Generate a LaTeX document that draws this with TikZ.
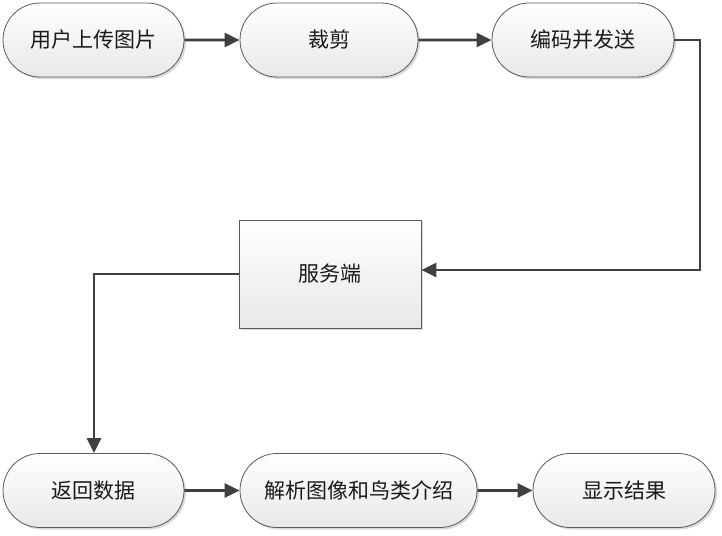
\documentclass[tikz,border=0pt]{standalone}
\usepackage{fontspec}
\setmainfont{Noto Sans CJK SC}
\usetikzlibrary{shapes.misc,shadows,arrows.meta}
\definecolor{edgecol}{HTML}{404040}
\definecolor{bordercol}{HTML}{5A5A5A}
\begin{document}
\begin{tikzpicture}[x=1pt,y=-1pt,
  base/.style={draw=bordercol,line width=0.8pt,top color=white,bottom color=black!9,
    drop shadow={shadow xshift=2pt,shadow yshift=-2pt,fill=black!25,opacity=0.6},
    font=\fontsize{21}{24}\selectfont,text=black!90,inner sep=0pt},
  pill/.style={base,rounded rectangle,minimum width=181pt,minimum height=74pt},
  boxnode/.style={base,rectangle,minimum width=182pt,minimum height=108pt},
  conn/.style={draw=edgecol,line width=2.6pt,-{Triangle[length=15pt,width=14pt]}}]
\useasboundingbox (0,0) rectangle (722,535);
\node[pill] (a) at (93.5,40) {用户上传图片};
\node[pill,minimum width=178pt] (b) at (329,40) {裁剪};
\node[pill,minimum width=182pt] (c) at (583,40) {编码并发送};
\node[boxnode] (s) at (330,274) {服务端};
\node[pill] (d) at (93.5,490.5) {返回数据};
\node[pill,minimum width=237pt] (e) at (358.5,490.5) {解析图像和鸟类介绍};
\node[pill,minimum width=182pt] (f) at (624,490.5) {显示结果};
\coordinate (c1) at (700,40);
\coordinate (c2) at (700,270);
\coordinate (s1) at (94,274);
\draw[conn] (a) -- (b);
\draw[conn] (b) -- (c);
\draw[conn] (c.east) -- (c1) -- (c2) -- (s.east |- c2);
\draw[conn] (s.west) -- (s1) -- (d.north -| s1);
\draw[conn] (d) -- (e);
\draw[conn] (e) -- (f);
\end{tikzpicture}
\end{document}
